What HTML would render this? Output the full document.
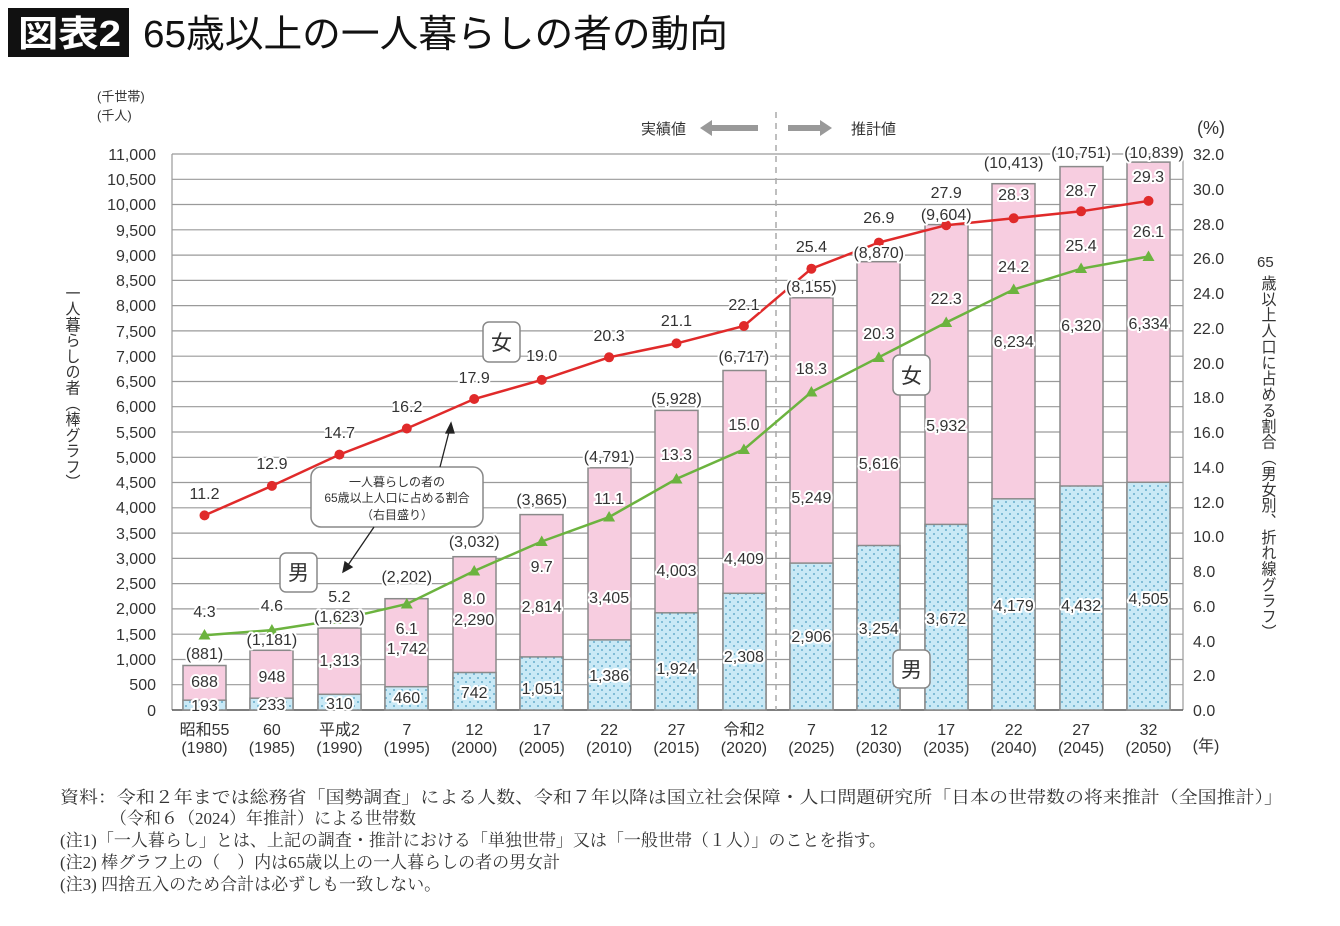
<!DOCTYPE html>
<html><head><meta charset="utf-8"><style>
html,body{margin:0;padding:0;background:#fff;}
svg{display:block;}
.t{font-family:"Liberation Sans","Noto Sans CJK JP",sans-serif;fill:#333;}
.h{stroke:#fff;stroke-width:4;paint-order:stroke;stroke-linejoin:round;}
.n{font-family:"Liberation Serif","Noto Serif CJK SC",serif;fill:#333;font-size:17px;}
</style></head><body>
<svg width="1340" height="926" viewBox="0 0 1340 926" xmlns="http://www.w3.org/2000/svg">
<defs>
<pattern id="dots" width="8" height="8" patternUnits="userSpaceOnUse">
<rect width="8" height="8" fill="#c9e9f6"/><circle cx="2" cy="2" r="0.9" fill="#4a9cc0"/><circle cx="6" cy="6" r="0.9" fill="#4a9cc0"/>
</pattern>
</defs>
<rect x="8" y="8" width="121" height="49" fill="#111"/>
<text x="18" y="46" font-size="36" fill="#fff" font-family="Liberation Sans,'Noto Sans CJK JP',sans-serif" font-weight="bold" textLength="103" lengthAdjust="spacingAndGlyphs">図表2</text>
<text x="143" y="47" font-size="38" fill="#111" font-family="Liberation Sans,'Noto Sans CJK JP',sans-serif" textLength="585" lengthAdjust="spacingAndGlyphs">65歳以上の一人暮らしの者の動向</text>

<g class="t" font-size="13"><text x="97" y="101">(千世帯)</text><text x="97" y="120">(千人)</text></g>
<text class="t" x="1197" y="134" font-size="18">(%)</text>

<!-- gridlines -->
<g stroke="#9a9a9a" stroke-width="1.2">
<line x1="172" x2="1183" y1="154" y2="154"/><line x1="172" x2="1183" y1="179.3" y2="179.3"/><line x1="172" x2="1183" y1="204.5" y2="204.5"/><line x1="172" x2="1183" y1="229.8" y2="229.8"/><line x1="172" x2="1183" y1="255.1" y2="255.1"/><line x1="172" x2="1183" y1="280.4" y2="280.4"/><line x1="172" x2="1183" y1="305.6" y2="305.6"/><line x1="172" x2="1183" y1="330.9" y2="330.9"/><line x1="172" x2="1183" y1="356.2" y2="356.2"/><line x1="172" x2="1183" y1="381.5" y2="381.5"/><line x1="172" x2="1183" y1="406.7" y2="406.7"/><line x1="172" x2="1183" y1="432" y2="432"/><line x1="172" x2="1183" y1="457.3" y2="457.3"/><line x1="172" x2="1183" y1="482.5" y2="482.5"/><line x1="172" x2="1183" y1="507.8" y2="507.8"/><line x1="172" x2="1183" y1="533.1" y2="533.1"/><line x1="172" x2="1183" y1="558.4" y2="558.4"/><line x1="172" x2="1183" y1="583.6" y2="583.6"/><line x1="172" x2="1183" y1="608.9" y2="608.9"/><line x1="172" x2="1183" y1="634.2" y2="634.2"/><line x1="172" x2="1183" y1="659.5" y2="659.5"/><line x1="172" x2="1183" y1="684.7" y2="684.7"/>
<line x1="172" x2="172" y1="154" y2="710"/><line x1="1183" x2="1183" y1="154" y2="710"/>
</g>
<line x1="172" x2="1183" y1="710" y2="710" stroke="#555" stroke-width="1.5"/>
<line x1="776" x2="776" y1="112" y2="710" stroke="#aaa" stroke-width="1.5" stroke-dasharray="6,5"/>

<!-- left ticks -->
<g class="t" font-size="16" text-anchor="end">
<text x="156" y="160">11,000</text><text x="156" y="185">10,500</text><text x="156" y="210">10,000</text><text x="156" y="236">9,500</text><text x="156" y="261">9,000</text><text x="156" y="286">8,500</text><text x="156" y="311">8,000</text><text x="156" y="337">7,500</text><text x="156" y="362">7,000</text><text x="156" y="387">6,500</text><text x="156" y="412">6,000</text><text x="156" y="438">5,500</text><text x="156" y="463">5,000</text><text x="156" y="488">4,500</text><text x="156" y="513">4,000</text><text x="156" y="539">3,500</text><text x="156" y="564">3,000</text><text x="156" y="589">2,500</text><text x="156" y="614">2,000</text><text x="156" y="640">1,500</text><text x="156" y="665">1,000</text><text x="156" y="690">500</text><text x="156" y="716">0</text>
</g>
<!-- right ticks -->
<g class="t" font-size="16">
<text x="1193" y="160">32.0</text><text x="1193" y="195">30.0</text><text x="1193" y="230">28.0</text><text x="1193" y="264">26.0</text><text x="1193" y="299">24.0</text><text x="1193" y="334">22.0</text><text x="1193" y="369">20.0</text><text x="1193" y="403">18.0</text><text x="1193" y="438">16.0</text><text x="1193" y="473">14.0</text><text x="1193" y="508">12.0</text><text x="1193" y="542">10.0</text><text x="1193" y="577">8.0</text><text x="1193" y="612">6.0</text><text x="1193" y="647">4.0</text><text x="1193" y="681">2.0</text><text x="1193" y="716">0.0</text>
</g>

<!-- vertical titles -->
<text class="t" x="72" y="285" font-size="15" style="writing-mode:vertical-rl;" textLength="205" lengthAdjust="spacingAndGlyphs">一人暮らしの者（棒グラフ）</text>
<text class="t" x="1257" y="267" font-size="15">65</text>
<text class="t" x="1268" y="275" font-size="15" style="writing-mode:vertical-rl;" textLength="365" lengthAdjust="spacingAndGlyphs">歳以上人口に占める割合（男女別、折れ線グラフ）</text>

<!-- arrows header -->
<text class="t" x="641" y="134" font-size="15">実績値</text>
<polygon points="700,128 712,120 712,125 758,125 758,131 712,131 712,136" fill="#999"/>
<polygon points="832,128 820,120 820,125 788,125 788,131 820,131 820,136" fill="#999"/>
<text class="t" x="851" y="134" font-size="15">推計値</text>

<!-- bars -->
<g stroke="#8a8a8a" stroke-width="1.5">
<rect x="183" y="665.5" width="43" height="44.5" fill="#f7cde0"/><rect x="183" y="700.2" width="43" height="9.8" fill="url(#dots)"/>
<rect x="250" y="650.3" width="43" height="59.7" fill="#f7cde0"/><rect x="250" y="698.2" width="43" height="11.8" fill="url(#dots)"/>
<rect x="318" y="628" width="43" height="82" fill="#f7cde0"/><rect x="318" y="694.3" width="43" height="15.7" fill="url(#dots)"/>
<rect x="385" y="598.7" width="43" height="111.3" fill="#f7cde0"/><rect x="385" y="686.7" width="43" height="23.3" fill="url(#dots)"/>
<rect x="453" y="556.7" width="43" height="153.3" fill="#f7cde0"/><rect x="453" y="672.5" width="43" height="37.5" fill="url(#dots)"/>
<rect x="520" y="514.6" width="43" height="195.4" fill="#f7cde0"/><rect x="520" y="656.9" width="43" height="53.1" fill="url(#dots)"/>
<rect x="588" y="467.8" width="43" height="242.2" fill="#f7cde0"/><rect x="588" y="639.9" width="43" height="70.1" fill="url(#dots)"/>
<rect x="655" y="410.4" width="43" height="299.6" fill="#f7cde0"/><rect x="655" y="612.8" width="43" height="97.2" fill="url(#dots)"/>
<rect x="723" y="370.5" width="43" height="339.5" fill="#f7cde0"/><rect x="723" y="593.3" width="43" height="116.7" fill="url(#dots)"/>
<rect x="790" y="297.8" width="43" height="412.2" fill="#f7cde0"/><rect x="790" y="563.1" width="43" height="146.9" fill="url(#dots)"/>
<rect x="857" y="261.7" width="43" height="448.3" fill="#f7cde0"/><rect x="857" y="545.5" width="43" height="164.5" fill="url(#dots)"/>
<rect x="925" y="224.6" width="43" height="485.4" fill="#f7cde0"/><rect x="925" y="524.4" width="43" height="185.6" fill="url(#dots)"/>
<rect x="992" y="183.7" width="43" height="526.3" fill="#f7cde0"/><rect x="992" y="498.8" width="43" height="211.2" fill="url(#dots)"/>
<rect x="1060" y="166.6" width="43" height="543.4" fill="#f7cde0"/><rect x="1060" y="486" width="43" height="224" fill="url(#dots)"/>
<rect x="1127" y="162.1" width="43" height="547.9" fill="#f7cde0"/><rect x="1127" y="482.3" width="43" height="227.7" fill="url(#dots)"/>
</g>

<!-- lines -->
<polyline fill="none" stroke="#e02a2a" stroke-width="2.5" points="204.5,515.4 271.9,485.9 339.4,454.6 406.8,428.5 474.2,399 541.7,379.9 609.1,357.3 676.5,343.4 743.9,326 811.4,268.7 878.8,242.6 946.2,225.2 1013.7,218.3 1081.1,211.3 1148.5,200.9"/>
<g fill="#e02a2a">
<circle cx="204.5" cy="515.4" r="5"/><circle cx="271.9" cy="485.9" r="5"/><circle cx="339.4" cy="454.6" r="5"/><circle cx="406.8" cy="428.5" r="5"/><circle cx="474.2" cy="399" r="5"/><circle cx="541.7" cy="379.9" r="5"/><circle cx="609.1" cy="357.3" r="5"/><circle cx="676.5" cy="343.4" r="5"/><circle cx="743.9" cy="326" r="5"/><circle cx="811.4" cy="268.7" r="5"/><circle cx="878.8" cy="242.6" r="5"/><circle cx="946.2" cy="225.2" r="5"/><circle cx="1013.7" cy="218.3" r="5"/><circle cx="1081.1" cy="211.3" r="5"/><circle cx="1148.5" cy="200.9" r="5"/>
</g>
<polyline fill="none" stroke="#6cb33f" stroke-width="2.5" points="204.5,635.3 271.9,630.1 339.4,619.6 406.8,604 474.2,571 541.7,541.5 609.1,517.1 676.5,478.9 743.9,449.4 811.4,392 878.8,357.3 946.2,322.5 1013.7,289.5 1081.1,268.7 1148.5,256.5"/>
<g fill="#6cb33f">
<polygon points="204.5,629 198.5,639.5 210.5,639.5"/><polygon points="271.9,624 265.9,634.5 277.9,634.5"/><polygon points="339.4,613.5 333.4,624 345.4,624"/><polygon points="406.8,598 400.8,608.5 412.8,608.5"/><polygon points="474.2,565 468.2,575.5 480.2,575.5"/><polygon points="541.7,535.5 535.7,546 547.7,546"/><polygon points="609.1,511 603.1,521.5 615.1,521.5"/><polygon points="676.5,473 670.5,483.5 682.5,483.5"/><polygon points="743.9,443.5 737.9,454 749.9,454"/><polygon points="811.4,386 805.4,396.5 817.4,396.5"/><polygon points="878.8,351.5 872.8,362 884.8,362"/><polygon points="946.2,316.5 940.2,327 952.2,327"/><polygon points="1013.7,283.5 1007.7,294 1019.7,294"/><polygon points="1081.1,262.5 1075.1,273 1087.1,273"/><polygon points="1148.5,250.5 1142.5,261 1154.5,261"/>
</g>

<!-- value labels -->
<g class="t h" font-size="16" text-anchor="middle">
<!-- totals -->
<text x="204.5" y="659">(881)</text><text x="271.9" y="645">(1,181)</text><text x="339.4" y="622">(1,623)</text><text x="406.8" y="582">(2,202)</text><text x="474.2" y="547">(3,032)</text><text x="541.7" y="505">(3,865)</text><text x="609.1" y="462">(4,791)</text><text x="676.5" y="404">(5,928)</text><text x="743.9" y="362">(6,717)</text><text x="811.4" y="292">(8,155)</text><text x="878.8" y="258">(8,870)</text><text x="946.2" y="220">(9,604)</text><text x="1013.7" y="168">(10,413)</text><text x="1081.1" y="158">(10,751)</text><text x="1154" y="158">(10,839)</text>
<!-- female -->
<text x="204.5" y="687">688</text><text x="271.9" y="682">948</text><text x="339.4" y="666">1,313</text><text x="406.8" y="654">1,742</text><text x="474.2" y="625">2,290</text><text x="541.7" y="612">2,814</text><text x="609.1" y="603">3,405</text><text x="676.5" y="576">4,003</text><text x="743.9" y="564">4,409</text><text x="811.4" y="503">5,249</text><text x="878.8" y="469">5,616</text><text x="946.2" y="431">5,932</text><text x="1013.7" y="347">6,234</text><text x="1081.1" y="331">6,320</text><text x="1148.5" y="329">6,334</text>
<!-- male -->
<text x="204.5" y="711">193</text><text x="271.9" y="710">233</text><text x="339.4" y="709">310</text><text x="406.8" y="703">460</text><text x="474.2" y="698">742</text><text x="541.7" y="694">1,051</text><text x="609.1" y="681">1,386</text><text x="676.5" y="674">1,924</text><text x="743.9" y="662">2,308</text><text x="811.4" y="642">2,906</text><text x="878.8" y="634">3,254</text><text x="946.2" y="624">3,672</text><text x="1013.7" y="611">4,179</text><text x="1081.1" y="611">4,432</text><text x="1148.5" y="604">4,505</text>
<!-- red % -->
<text x="204.5" y="499">11.2</text><text x="271.9" y="469">12.9</text><text x="339.4" y="438">14.7</text><text x="406.8" y="412">16.2</text><text x="474.2" y="383">17.9</text><text x="541.7" y="361">19.0</text><text x="609.1" y="341">20.3</text><text x="676.5" y="326">21.1</text><text x="743.9" y="310">22.1</text><text x="811.4" y="252">25.4</text><text x="878.8" y="223">26.9</text><text x="946.2" y="198">27.9</text><text x="1013.7" y="200">28.3</text><text x="1081.1" y="196">28.7</text><text x="1148.5" y="182">29.3</text>
<!-- green % -->
<text x="204.5" y="617">4.3</text><text x="271.9" y="611">4.6</text><text x="339.4" y="602">5.2</text><text x="406.8" y="634">6.1</text><text x="474.2" y="604">8.0</text><text x="541.7" y="572">9.7</text><text x="609.1" y="504">11.1</text><text x="676.5" y="460">13.3</text><text x="743.9" y="430">15.0</text><text x="811.4" y="374">18.3</text><text x="878.8" y="339">20.3</text><text x="946.2" y="304">22.3</text><text x="1013.7" y="272">24.2</text><text x="1081.1" y="251">25.4</text><text x="1148.5" y="237">26.1</text>
</g>

<!-- boxes -->
<g fill="#fff" stroke="#888" stroke-width="1.5">
<rect x="483" y="322" width="37" height="40" rx="6"/><rect x="280" y="553" width="37" height="39" rx="6"/><rect x="893" y="355" width="37" height="40" rx="6"/><rect x="893" y="650" width="37" height="38" rx="6"/>
<rect x="311" y="467" width="172" height="60" rx="10"/>
</g>
<g class="t" font-size="21" text-anchor="middle" fill="#222">
<text x="501.5" y="350">女</text><text x="298.5" y="580">男</text><text x="911.5" y="383">女</text><text x="911.5" y="677">男</text>
</g>
<g class="t" font-size="12" text-anchor="middle">
<text x="397" y="486">一人暮らしの者の</text><text x="397" y="502">65歳以上人口に占める割合</text><text x="397" y="519">（右目盛り）</text>
</g>
<g stroke="#222" stroke-width="1.3" fill="#222">
<line x1="440" y1="467" x2="450" y2="428"/><polygon points="451,423 446,433 454,433"/>
<line x1="374" y1="527" x2="346" y2="568"/><polygon points="343,572 345,562 352,567"/>
</g>

<!-- x labels -->
<g class="t" font-size="16" text-anchor="middle">
<text x="204.5" y="735">昭和55</text><text x="204.5" y="753">(1980)</text>
<text x="271.9" y="735">60</text><text x="271.9" y="753">(1985)</text>
<text x="339.4" y="735">平成2</text><text x="339.4" y="753">(1990)</text>
<text x="406.8" y="735">7</text><text x="406.8" y="753">(1995)</text>
<text x="474.2" y="735">12</text><text x="474.2" y="753">(2000)</text>
<text x="541.7" y="735">17</text><text x="541.7" y="753">(2005)</text>
<text x="609.1" y="735">22</text><text x="609.1" y="753">(2010)</text>
<text x="676.5" y="735">27</text><text x="676.5" y="753">(2015)</text>
<text x="743.9" y="735">令和2</text><text x="743.9" y="753">(2020)</text>
<text x="811.4" y="735">7</text><text x="811.4" y="753">(2025)</text>
<text x="878.8" y="735">12</text><text x="878.8" y="753">(2030)</text>
<text x="946.2" y="735">17</text><text x="946.2" y="753">(2035)</text>
<text x="1013.7" y="735">22</text><text x="1013.7" y="753">(2040)</text>
<text x="1081.1" y="735">27</text><text x="1081.1" y="753">(2045)</text>
<text x="1148.5" y="735">32</text><text x="1148.5" y="753">(2050)</text>
<text x="1206" y="751">(年)</text>
</g>

<!-- notes -->
<text class="n" x="60" y="803" textLength="1223" lengthAdjust="spacingAndGlyphs">資料：令和２年までは総務省「国勢調査」による人数、令和７年以降は国立社会保障・人口問題研究所「日本の世帯数の将来推計（全国推計）」</text>
<text class="n" x="110" y="824">（令和６（2024）年推計）による世帯数</text>
<text class="n" x="60" y="846">(注1)「一人暮らし」とは、上記の調査・推計における「単独世帯」又は「一般世帯（１人）」のことを指す。</text>
<text class="n" x="60" y="868">(注2) 棒グラフ上の（　）内は65歳以上の一人暮らしの者の男女計</text>
<text class="n" x="60" y="890">(注3) 四捨五入のため合計は必ずしも一致しない。</text>
</svg>
</body></html>
